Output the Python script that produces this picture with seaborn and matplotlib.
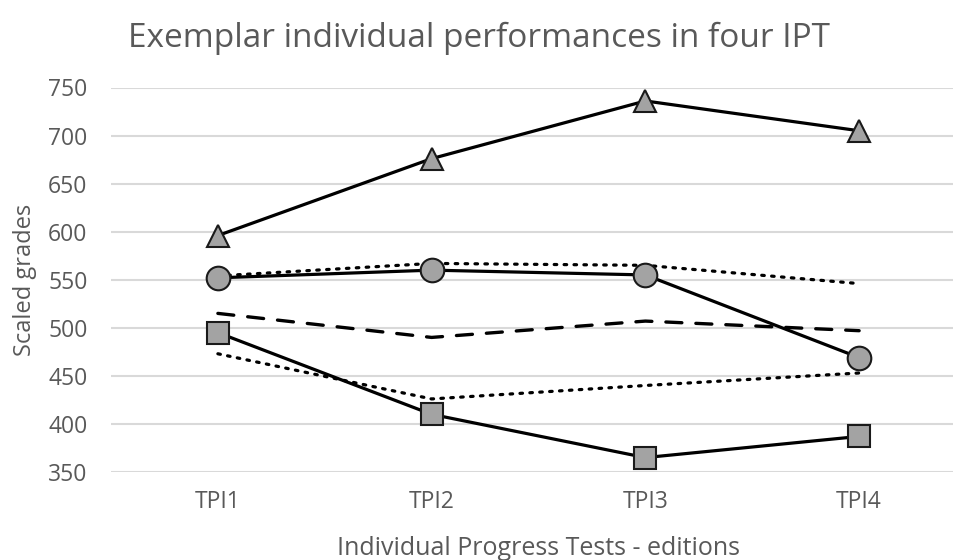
import matplotlib
matplotlib.use("Agg")
import matplotlib.pyplot as plt
import seaborn as sns
import pandas as pd

editions = ["TPI1", "TPI2", "TPI3", "TPI4"]
triangle_student = [596, 676, 736, 705]
circle_student = [552, 560, 555, 469]
square_student = [495, 410, 365, 387]
dashed_series = [515, 490, 507, 497]
dotted_upper = [554, 567, 565, 546]
dotted_lower = [473, 426, 440, 453]
yticks = [350, 400, 450, 500, 550, 600, 650, 700, 750]

sns.set_theme(style="white")
plt.rcParams["font.family"] = ["Open Sans", "DejaVu Sans"]

TXT = "#595959"
fig = plt.figure(figsize=(9.54, 5.6), dpi=100)
ax = fig.add_axes([111 / 954, 1 - 472 / 560, (966 - 111) / 954, (472 - 87.5) / 560])

series = [
    ("dotted_upper", dotted_upper, dict(linestyle=(0, (0.8, 2.3)), linewidth=2.3, marker=None)),
    ("dotted_lower", dotted_lower, dict(linestyle=(0, (0.8, 2.3)), linewidth=2.3, marker=None)),
    ("dashed", dashed_series, dict(linestyle=(0, (4.8, 4.2)), linewidth=2.4, marker=None)),
    ("triangle", triangle_student, dict(linestyle="-", linewidth=2.3, marker="^", markersize=16)),
    ("circle", circle_student, dict(linestyle="-", linewidth=2.3, marker="o", markersize=17)),
    ("square", square_student, dict(linestyle="-", linewidth=2.3, marker="s", markersize=16)),
]

for name, vals, kw in series:
    df = pd.DataFrame({"x": list(range(len(editions))), "y": vals})
    extra = {}
    if kw.get("marker"):
        extra = dict(markerfacecolor="#a3a3a3", markeredgecolor="#1a1a1a", markeredgewidth=1.5)
    sns.lineplot(data=df, x="x", y="y", ax=ax, color="black",
                 linestyle=kw["linestyle"], linewidth=kw["linewidth"],
                 marker=kw["marker"], markersize=kw.get("markersize", 0),
                 dash_capstyle="round", zorder=3, **extra)

ax.set_xlim(-0.5, 3.5)
ax.set_ylim(350, 750)
ax.set_yticks(yticks)
ax.set_yticklabels([str(v) for v in yticks])
ax.set_xticks(range(len(editions)))
ax.set_xticklabels(editions)
ax.yaxis.grid(True, color="#d9d9d9", linewidth=1.5)
ax.xaxis.grid(False)
for s in ax.spines.values():
    s.set_visible(False)
ax.tick_params(axis="y", length=0, pad=17, labelsize=16.5, labelcolor=TXT)
ax.tick_params(axis="x", length=0, pad=13, labelsize=16.5, labelcolor=TXT)

ax.set_xlabel("Individual Progress Tests - editions", fontsize=18, color=TXT, labelpad=16)
ax.set_ylabel("Scaled grades", fontsize=17, color=TXT, labelpad=8)
fig.text(479 / 954, 1 - 38 / 560, "Exemplar individual performances in four IPT",
         ha="center", va="center", fontsize=24, color=TXT)

fig.savefig("out.png", dpi=100)
